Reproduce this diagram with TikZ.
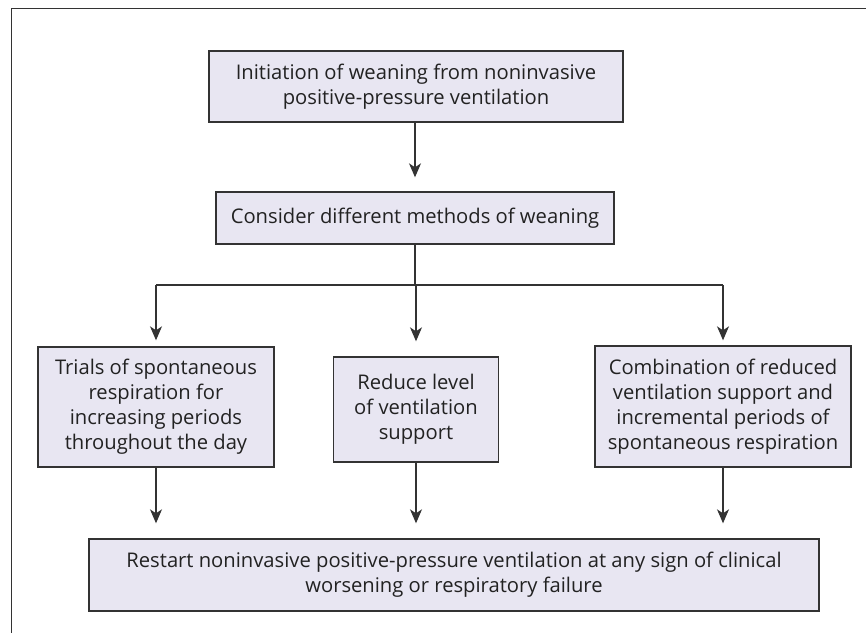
\documentclass[tikz,border=0pt]{standalone}
\usepackage{fontspec}
\setmainfont{Open Sans}
\usetikzlibrary{arrows.meta}
\definecolor{boxfill}{HTML}{E8E6F2}
\definecolor{edgec}{HTML}{333333}
\definecolor{txtc}{HTML}{222222}
\begin{document}
\begin{tikzpicture}[x=1pt,y=-1pt,
  box/.style={draw=edgec, line width=1.4pt, fill=boxfill, inner sep=0pt, align=center, text=txtc, font=\fontsize{20.2}{25}\selectfont},
  conn/.style={draw=edgec, line width=1.4pt},
  arr/.style={conn, -{Stealth[length=14pt,width=12pt,inset=4pt]}}]
\useasboundingbox (0,0) rectangle (866,633);
\draw[conn] (866,8.5) -- (11.5,8.5) -- (11.5,633);
\node[box, minimum width=414pt, minimum height=71pt] (init) at (416,86.5) {Initiation of weaning from noninvasive\\positive-pressure ventilation};
\node[box, minimum width=398pt, minimum height=52pt] (consider) at (415,218) {Consider different methods of weaning};
\node[box, minimum width=236pt, minimum height=120pt] (trials) at (156,407) {Trials of spontaneous\\respiration for\\increasing periods\\throughout the day};
\node[box, minimum width=165pt, minimum height=105pt] (reduce) at (416,409.5) {Reduce level\\of ventilation\\support};
\node[box, minimum width=256pt, minimum height=121pt] (combo) at (723,406.5) {Combination of reduced\\ventilation support and\\incremental periods of\\spontaneous respiration};
\node[box, minimum width=730pt, minimum height=72pt] (restart) at (454,575) {Restart noninvasive positive-pressure ventilation at any sign of clinical\\worsening or respiratory failure};
\coordinate (j) at (consider.south |- 0,285);
\coordinate (jl) at (trials.north |- 0,285);
\coordinate (jr) at (combo.north |- 0,285);
\draw[arr, shorten >=14pt] (init.south -| consider.south) -- (consider.north);
\draw[conn] (consider.south) -- (j);
\draw[conn] (jl) -- (jr);
\draw[arr, shorten >=6pt] (jl) -- (trials.north);
\draw[arr, shorten >=15pt] (j -| reduce.north) -- (reduce.north);
\draw[arr, shorten >=5pt] (jr) -- (combo.north);
\draw[arr, shorten >=15pt] (trials.south) -- (trials.south |- restart.north);
\draw[arr, shorten >=15pt] (reduce.south) -- (reduce.south |- restart.north);
\draw[arr, shorten >=15pt] (combo.south) -- (combo.south |- restart.north);
\end{tikzpicture}
\end{document}
